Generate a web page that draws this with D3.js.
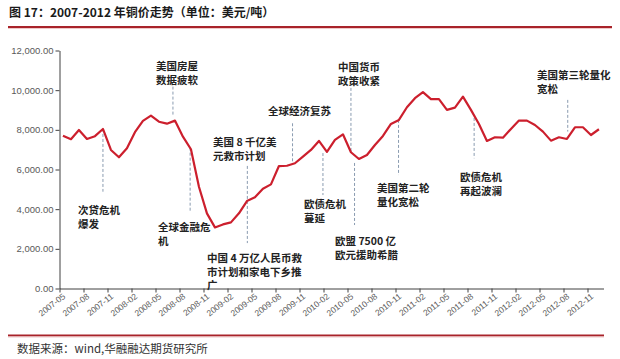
<!DOCTYPE html>
<html><head><meta charset="utf-8">
<script src="https://cdn.jsdelivr.net/npm/d3@7"></script>
<style>body{margin:0;background:#fff;} svg{display:block;}</style>
</head><body>
<svg id="c" width="620" height="359"></svg>
<script>
// ---- data ----
const tickLabels = ["2007-05","2007-08","2007-11","2008-02","2008-05","2008-08","2008-11","2009-02","2009-05","2009-08","2009-11","2010-02","2010-05","2010-08","2010-11","2011-02","2011-05","2011-08","2011-11","2012-02","2012-05","2012-08","2012-11"];
const copperPrice = [7700,7525,7990,7540,7680,8045,6985,6615,7070,7880,8450,8715,8410,8310,8465,7655,7020,5130,3790,3080,3230,3335,3790,4410,4595,5030,5250,6175,6190,6315,6645,6985,7440,6885,7490,7775,6870,6530,6730,7235,7690,8295,8500,9140,9595,9900,9545,9545,9005,9120,9675,9005,8295,7440,7625,7605,8045,8465,8465,8245,7910,7455,7625,7540,8130,8130,7740,8030];
const yTicks = [0,2000,4000,6000,8000,10000,12000];
// annotation events: month index of the marker, dashed line value range, text lines
const events = [
  {m:5,    from:8045,  to:4880, lines:["次贷危机","爆发"]},
  {m:13.75,from:10180, to:8750, lines:["美国房屋","数据疲软"]},
  {m:15.9, from:7100,  to:3870, lines:["全球金融危","机"]},
  {m:23.05,from:6180,  to:2290, lines:["美国 8 千亿美","元救市计划"]},
  {m:23.05,from:null,  to:null, lines:["中国 4 万亿人民币救","市计划和家电下乡推","广"]},
  {m:28.7, from:8330,  to:6390, lines:["全球经济复苏"]},
  {m:32.5, from:6830,  to:4710, lines:["欧债危机","蔓延"]},
  {m:36,   from:10115, to:6870, lines:["中国货币","政策收紧"]},
  {m:36.45,from:6330,  to:3200, lines:["欧盟 7500 亿","欧元援助希腊"]},
  {m:41.95,from:8500,  to:5720, lines:["美国第二轮","量化宽松"]},
  {m:51.4, from:8600,  to:6565, lines:["欧债危机","再起波澜"]},
  {m:63.1, from:9510,  to:7910, lines:["美国第三轮量化","宽松"]}
];
// label placement (px offsets: left x, first-line center y)
const labelPos = [[78,210],[156,66],[158,227],[213,142],[207,258],[268,111],[304,204],[338,67],[335,241],[377,188],[460,177],[537,75]];

// ---- chart ----
const svg = d3.select("#c");
const cjk = "'Noto Sans CJK SC','Noto Sans',sans-serif";
const x = d3.scaleLinear().domain([0,68]).range([59.5,603.5]);
const y = d3.scaleLinear().domain([0,12000]).range([288.5,50.5]);

// title
svg.append("text").attr("x",9).attr("y",16.5).attr("font-family",cjk).attr("font-weight","bold")
  .attr("font-size",12).attr("fill","#1a1a1a").text("图 17：2007-2012 年铜价走势（单位：美元/吨）");
svg.append("line").attr("x1",8).attr("x2",612).attr("y1",27).attr("y2",27).attr("stroke","#a8232a").attr("stroke-width",2);
svg.append("line").attr("x1",8).attr("x2",612).attr("y1",28.5).attr("y2",28.5).attr("stroke","#f0c8c8").attr("stroke-width",1);

// y axis
const yAxis = d3.axisLeft(y).tickValues(yTicks).tickSize(4).tickSizeOuter(0).tickFormat(d3.format(",.2f"));
const gy = svg.append("g").attr("transform","translate(59.5,0)").call(yAxis);
gy.select(".domain").attr("stroke","#404040");
gy.selectAll(".tick line").attr("stroke","#404040");
gy.selectAll("text").attr("font-family","'Liberation Sans',Arial,sans-serif").attr("font-size",9.5).attr("fill","#595959").attr("x",-6);

// x axis
const xAxis = d3.axisBottom(x).tickValues(d3.range(0,67,3)).tickSize(4).tickSizeOuter(0).tickFormat((d,i)=>tickLabels[i]);
const gx = svg.append("g").attr("transform","translate(0,288.5)").call(xAxis);
gx.select(".domain").attr("stroke","#404040");
gx.selectAll(".tick line").attr("stroke","#404040");
gx.selectAll("text").attr("font-family","'Liberation Sans',Arial,sans-serif").attr("font-size",8.5).attr("fill","#595959")
  .attr("text-anchor","end").attr("dy",0).attr("y",0)
  .attr("transform","translate(6,9) rotate(-38)");

// dashed event lines
svg.append("g").selectAll("line").data(events.filter(e=>e.from!==null)).join("line")
  .attr("x1",d=>x(d.m+0.43)).attr("x2",d=>x(d.m+0.43))
  .attr("y1",d=>y(d.from)).attr("y2",d=>y(d.to))
  .attr("stroke","#8a9bb0").attr("stroke-width",1).attr("stroke-dasharray","3,2");

// price line
svg.append("path").datum(copperPrice)
  .attr("fill","none").attr("stroke","#cc1f2d").attr("stroke-width",2.2).attr("stroke-linejoin","round")
  .attr("d",d3.line().x((d,i)=>x(i+0.43)).y(d=>y(d)));

// event labels
events.forEach((e,k)=>{
  const t = svg.append("text").attr("font-family",cjk).attr("font-size",10.5).attr("font-weight","bold").attr("fill","#222");
  e.lines.forEach((s,j)=>{
    t.append("tspan").attr("x",labelPos[k][0]).attr("y",labelPos[k][1]+4+j*13.5).text(s);
  });
});

// source
svg.append("line").attr("x1",8).attr("x2",604).attr("y1",335.5).attr("y2",335.5).attr("stroke","#a8232a").attr("stroke-width",2);
svg.append("line").attr("x1",8).attr("x2",604).attr("y1",337).attr("y2",337).attr("stroke","#f0c8c8").attr("stroke-width",1);
svg.append("text").attr("x",17).attr("y",352.5).attr("font-family",cjk).attr("font-size",11.5).attr("fill","#333")
  .text("数据来源：wind,华融融达期货研究所");
</script>
</body></html>
